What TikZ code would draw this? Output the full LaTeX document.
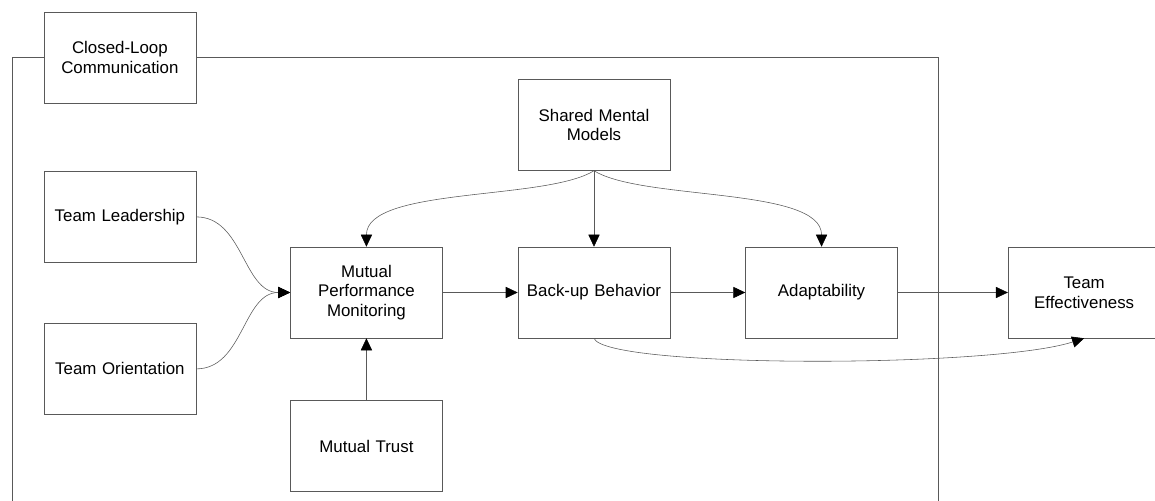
\documentclass[tikz,border=0pt]{standalone}
\usepackage{fontspec}
\setmainfont{Liberation Sans}
\usetikzlibrary{arrows.meta, positioning, calc}
\tikzset{
	box/.style   = {draw=black!65, rectangle, minimum width=3.8cm, minimum height=2.275cm, text centered, text width=3.5cm, fill=white, font=\fontsize{12}{14}\selectfont},
	arrow/.style = {draw=black!65, -{Triangle[length=3mm, width=2.8mm, color=black]}},
	frame/.style = {draw=black!65}
}

\begin{document}
\begin{tikzpicture}[node distance=1.875cm]
	\useasboundingbox (-14.85,7.3125) rectangle (14.025,-5.1875);
	\node (backup) [box] at (0,0) {Back-up Behavior};
	\node (mpm)    [box, left=of backup] {Mutual\\Performance\\Monitoring};
	\node (adapt)  [box, right=of backup] {Adaptability};
	\node (smm)    [box, above=1.9cm of backup] {Shared Mental\\Models};
	\node (trust)  [box, below=1.55cm of mpm] {Mutual Trust};
	\node (effect) [box, right=2.75cm of adapt] {Team\\Effectiveness};
	\node (lead)   [box, left=2.35cm of mpm, yshift=1.89cm] {Team Leadership};
	\node (orient) [box, left=2.35cm of mpm, yshift=-1.91cm] {Team Orientation};
	\node (clc)    [box, above=1.7cm of lead] {Closed-Loop\\Communication};

	% frame round the team processes
	\coordinate (ftl) at ($(clc.west)+(-0.775,0)$);
	\coordinate (ftr) at ($(adapt.east |- clc.east)+(1,0)$);
	\coordinate (fbl) at ($(ftl)+(0,-11.5)$);
	\coordinate (fbr) at ($(ftr)+(0,-11.5)$);
	\draw [frame] (fbl) -- (ftl) -- (clc.west);
	\draw [frame] (clc.east) -- (ftr) -- (fbr);

	\draw [arrow] (lead.east)   to[out=0, in=180] (mpm.west);
	\draw [arrow] (orient.east) to[out=0, in=180] (mpm.west);
	\draw [arrow] (trust) -- (mpm);
	\draw [arrow] (mpm) -- (backup);
	\draw [arrow] (backup) -- (adapt);
	\draw [arrow] (adapt) -- (effect);
	\draw [arrow] (smm.south) -- (backup.north);
	\draw [arrow] (smm.south) .. controls +(-1.2,-0.75) and +(0,1.5) .. (mpm.north);
	\draw [arrow] (smm.south) .. controls +(1.2,-0.75) and +(0,1.5) .. (adapt.north);
	\draw [arrow] (backup.south) .. controls +(0.275,-0.75) and +(-2.325,-0.75) .. (effect.south);
\end{tikzpicture}
\end{document}
